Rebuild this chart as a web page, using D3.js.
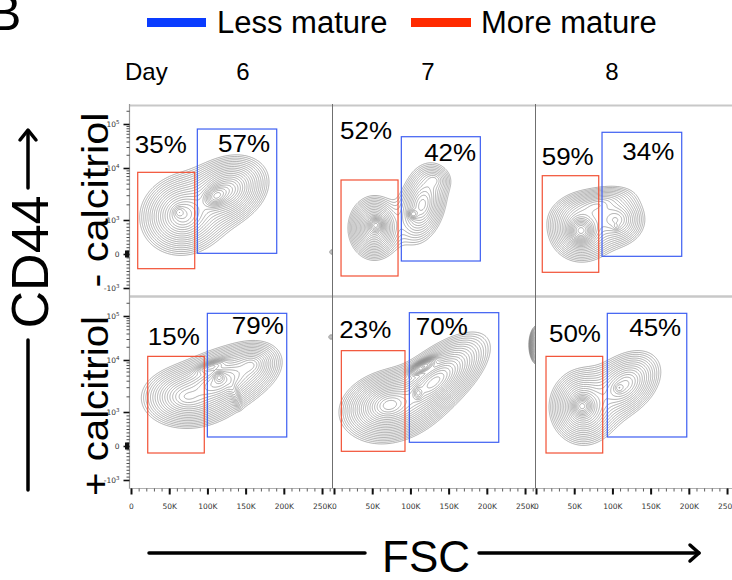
<!DOCTYPE html>
<html><head><meta charset="utf-8">
<script src="https://cdn.jsdelivr.net/npm/d3@7"></script>
<style>body{margin:0;background:#fff}svg{display:block}</style>
</head><body>
<script>
// ---------------- DATA ----------------
const days = ["6", "7", "8"];
const conditions = ["- calcitriol", "+ calcitriol"];
const legendLabels = ["Less mature", "More mature"];
const xTickValues = [0, 50000, 100000, 150000, 200000, 250000];
const xTickLabels = ["0", "50K", "100K", "150K", "200K", "250K"];
const yTickValues = [-1000, 0, 1000, 10000, 100000];
const yTickLabels = [["-10", "3"], ["0", ""], ["10", "3"], ["10", "4"], ["10", "5"]];

// populations: [FSC (K), CD44, sd FSC (K), sd CD44 (decades), angle deg, weight, core(1)/broad(0)]
const popsMinusDay6 = [[68.1,1248,14.4,0.208,-20,0.7,0],[124.4,3600,14.4,0.167,-28,0.8,0],[111.3,2894,7.9,0.094,-35,1.0,1],[62.8,1425,3.9,0.0625,0,0.35,1],[263,59,2.9,0.046,0,0.05,0]];
const popsMinusDay7 = [[52.4,765,8.5,0.167,0,0.8,0],[55,853,4.6,0.073,0,1.0,1],[115.2,1942,15.7,0.146,-75,0.4,0],[103.4,1305,3.3,0.052,0,0.3,1],[130.9,5880,7.9,0.104,0,0.12,0]];
const popsMinusDay8 = [[58.9,735,11.1,0.177,0,0.8,0],[58.9,676,7.2,0.115,0,1.2,1],[104.7,1000,11.8,0.167,0,0.4,0],[104.7,794,2.6,0.042,0,0.12,1],[78.5,1942,15.7,0.104,-15,0.25,0]];
const popsPlusDay6 = [[115.2,3775,18.3,0.156,-22,0.9,0],[72,1942,15.7,0.167,0,0.45,0],[115.2,4710,3.9,0.0625,0,0.8,1],[104.7,7330,10.5,0.052,-20,0.4,1],[134.8,2425,9.2,0.052,70,0.15,1],[157,8020,10.5,0.125,-20,0.3,0],[261.8,33300,2.9,0.046,0,0.05,0]];
const popsPlusDay7 = [[72,1365,14.4,0.156,-15,0.7,0],[130.9,3775,19.6,0.135,-40,0.7,0],[116.5,7330,9.2,0.052,-30,0.7,1],[110,2320,3.3,0.073,0,0.4,1],[266.4,21900,4.6,0.167,0,0.35,1]];
const popsPlusDay8 = [[61.5,1248,11.1,0.198,0,0.8,0],[60.2,1305,5.9,0.094,0,1.0,1],[115.2,3300,15.7,0.167,-40,0.5,0],[108.6,2894,3.3,0.052,0,0.2,1]];

// gates: [FSC low (K), FSC high (K), CD44 low, CD44 high]
const gatesMoreMature = [[8.8,83.4,-432,8260],[9.2,83.8,-647,5880],[8.2,82.1,-538,7110],[21.9,95.9,-206,12100],[9.6,92.9,-156,16300],[13.1,87.3,-206,12100]];
const gatesLessMature = [[86.8,190.7,20,76900],[88.1,191.5,-206,51400],[86.4,190.7,-68,64800],[99.9,203.8,265,115000],[98.6,215.6,109,119000],[93.3,197.3,265,115000]];
const pctMoreMature = [35, 52, 59, 15, 23, 50];
const pctLessMature = [57, 42, 34, 79, 70, 45];
// label anchors (FSC K, CD44) – left edge / baseline
const moreLabelAt = [[5,21900],[7.9,45600],[7.5,11700],[22,21900],[7,31100],[17,25200]];
const lessLabelAt = [[114,23100],[118,14700],[113,15200],[132,38400],[107,37000],[122,35600]];

const panelPops = [popsMinusDay6, popsMinusDay7, popsMinusDay8, popsPlusDay6, popsPlusDay7, popsPlusDay8];

// ---------------- LAYOUT ----------------
const W = 732, H = 580;
const FONT = "'Liberation Sans', Arial, Helvetica, sans-serif";
const colEdge = [129.5, 332.5, 535.5, 732];
const fscZero = [131, 334, 536];
const rowTop = [105, 297];
const panelH = 192;
const BLUE = "#0a3cff", RED = "#ff2a00";
const GATE_BLUE = "#3d5ef2", GATE_RED = "#f25034";

const svg = d3.select("body").append("svg").attr("width", W).attr("height", H)
  .style("font-family", FONT);

function uT(v) { return v >= 1000 ? Math.log10(v) : 2 + v / 1000; }
function makeY(r) {
  const lin = d3.scaleLinear().domain([1, 2, 3, 4, 5]).range([183, 149, 115, 63, 19].map(d => d + rowTop[r]));
  const f = v => lin(uT(v)); f.lin = lin; return f;
}
function makeX(c) { return d3.scaleLinear().domain([0, 265000]).range([fscZero[c], fscZero[c] + 202.5]); }

// ---------------- PANELS ----------------
const defs = svg.append("defs");
for (let r = 0; r < 2; r++) {
  for (let c = 0; c < 3; c++) {
    const idx = r * 3 + c;
    const x = makeX(c), y = makeY(r);
    const gx0 = colEdge[c], gy0 = rowTop[r];
    const gw = Math.round(colEdge[c + 1] - colEdge[c]), gh = panelH;
    const pops = panelPops[idx].map(p => ({
      cx: x(p[0] * 1000) - gx0, cy: y(p[1]) - gy0,
      sx: x(p[2] * 1000) - x(0), sy: p[3] * 48,
      ca: Math.cos(p[4] * Math.PI / 180), sa: Math.sin(p[4] * Math.PI / 180), w: p[5], core: p[6]
    }));
    const vals = new Float64Array(gw * gh);
    for (let j = 0; j < gh; j++) for (let i = 0; i < gw; i++) {
      let s = 0;
      for (const p of pops) {
        const dx = i + 0.5 - p.cx, dy = j + 0.5 - p.cy;
        const xr = dx * p.ca + dy * p.sa, yr = -dx * p.sa + dy * p.ca;
        const d2 = xr * xr / (p.sx * p.sx) + yr * yr / (p.sy * p.sy);
        s += p.w * (p.core ? Math.exp(-0.5 * d2) : Math.exp(1 - Math.sqrt(1 + d2)));
      }
      vals[j * gw + i] = s;
    }
    const mx = d3.max(vals);
    const N = 22, hi = 0.9, lo = 0.02;
    const levels = d3.range(N).map(k => mx * hi * Math.pow(lo / hi, k / (N - 1)));
    const cont = d3.contours().size([gw, gh]).thresholds(levels)(vals);
    const cid = "clip" + idx;
    defs.append("clipPath").attr("id", cid).append("rect")
      .attr("x", gx0).attr("y", gy0).attr("width", gw).attr("height", gh);
    const g = svg.append("g").attr("clip-path", `url(#${cid})`);
    g.append("g").attr("transform", `translate(${gx0},${gy0})`)
      .selectAll("path").data(cont).join("path")
      .attr("d", d3.geoPath())
      .attr("fill", "none").attr("stroke", "#828282").attr("stroke-width", 0.6);

    // gates
    const gm = gatesMoreMature[idx], gl = gatesLessMature[idx];
    g.append("rect").attr("x", x(gm[0] * 1000)).attr("y", y(gm[3]))
      .attr("width", x(gm[1] * 1000) - x(gm[0] * 1000)).attr("height", y(gm[2]) - y(gm[3]))
      .attr("fill", "none").attr("stroke", GATE_RED).attr("stroke-width", 1.2);
    g.append("rect").attr("x", x(gl[0] * 1000)).attr("y", y(gl[3]))
      .attr("width", x(gl[1] * 1000) - x(gl[0] * 1000)).attr("height", y(gl[2]) - y(gl[3]))
      .attr("fill", "none").attr("stroke", GATE_BLUE).attr("stroke-width", 1.2);
    // labels
    svg.append("text").attr("x", x(moreLabelAt[idx][0] * 1000)).attr("y", y(moreLabelAt[idx][1]))
      .attr("font-size", 23).attr("textLength", 52).attr("lengthAdjust", "spacingAndGlyphs")
      .text(pctMoreMature[idx] + "%");
    svg.append("text").attr("x", x(lessLabelAt[idx][0] * 1000)).attr("y", y(lessLabelAt[idx][1]))
      .attr("font-size", 23).attr("textLength", 52).attr("lengthAdjust", "spacingAndGlyphs")
      .text(pctLessMature[idx] + "%");
  }
}

// ---------------- FRAME ----------------
const frame = svg.append("g");
frame.append("line").attr("x1", 129).attr("x2", W).attr("y1", 105.5).attr("y2", 105.5).attr("stroke", "#c8c8c8").attr("stroke-width", 2);
frame.append("line").attr("x1", 129).attr("x2", W).attr("y1", 296.5).attr("y2", 296.5).attr("stroke", "#c8c8c8").attr("stroke-width", 2.5);
[332.5, 535.5].forEach(xv => frame.append("line").attr("x1", xv).attr("x2", xv).attr("y1", 104).attr("y2", 489).attr("stroke", "#6f6f6f").attr("stroke-width", 1));
frame.append("line").attr("x1", 129.5).attr("x2", 129.5).attr("y1", 104).attr("y2", 489).attr("stroke", "#9a9a9a").attr("stroke-width", 1.2);
frame.append("line").attr("x1", 129).attr("x2", W).attr("y1", 488.5).attr("y2", 488.5).attr("stroke", "#b0b0b0").attr("stroke-width", 1.2);

// ---------------- AXES ----------------
const axisFont = "'DejaVu Sans', Verdana, sans-serif";
for (let r = 0; r < 2; r++) {
  const y = makeY(r);
  const minor = [];
  [-900,-800,-700,-600,-500,-400,-300,-200,-100,100,200,300,400,500,600,700,800,900].forEach(v => minor.push(v));
  [2,3,4,5,6,7,8,9].forEach(m => { minor.push(m * 1000); minor.push(m * 10000); });
  minor.push(200000);
  const gMin = svg.append("g").attr("transform", "translate(129.5,0)")
    .call(d3.axisLeft(y.lin).tickValues(minor.map(uT)).tickSize(3).tickFormat(""));
  gMin.select(".domain").remove();
  gMin.selectAll("line").attr("stroke", "#222").attr("stroke-width", 0.8);
  const gMaj = svg.append("g").attr("transform", "translate(129.5,0)")
    .call(d3.axisLeft(y.lin).tickValues(yTickValues.map(uT)).tickSize(6).tickPadding(4).tickFormat(""));
  gMaj.select(".domain").remove();
  gMaj.selectAll("line").attr("stroke", "#111").attr("stroke-width", 1.6);
  gMaj.selectAll(".tick").each(function (d, i) {
    const t = d3.select(this).append("text").attr("x", -10).attr("dy", "0.32em")
      .attr("text-anchor", "end").attr("fill", "#333").attr("font-size", 7.5).attr("font-family", axisFont);
    t.append("tspan").text(yTickLabels[i][0]);
    if (yTickLabels[i][1]) t.append("tspan").attr("dy", "-0.45em").attr("font-size", 5.5).text(yTickLabels[i][1]);
  });
  svg.append("rect").attr("x", 125).attr("y", y(0) - 3.5).attr("width", 4).attr("height", 7).attr("fill", "#111");
}
for (let c = 0; c < 3; c++) {
  const x = makeX(c);
  const gMin = svg.append("g").attr("transform", "translate(0,488.5)")
    .call(d3.axisBottom(x).tickValues(d3.range(0, 260001, 10000)).tickSize(3).tickFormat(""));
  gMin.select(".domain").remove();
  gMin.selectAll("line").attr("stroke", "#333").attr("stroke-width", 0.8);
  const gMaj = svg.append("g").attr("transform", "translate(0,488.5)")
    .call(d3.axisBottom(x).tickValues(xTickValues).tickSize(6).tickPadding(9).tickFormat((d, i) => xTickLabels[i]));
  gMaj.select(".domain").remove();
  gMaj.selectAll("line").attr("stroke", "#111").attr("stroke-width", 2);
  gMaj.selectAll("text").attr("fill", "#333").attr("font-size", 7.5).attr("font-family", axisFont);
}

// ---------------- TITLES ----------------
svg.append("text").attr("x", -12).attr("y", 30).attr("font-size", 50).text("B");
// legend
svg.append("rect").attr("x", 147).attr("y", 18).attr("width", 59).attr("height", 9).attr("fill", BLUE);
svg.append("text").attr("x", 217).attr("y", 33).attr("font-size", 31).text(legendLabels[0]);
svg.append("rect").attr("x", 411).attr("y", 18).attr("width", 60).attr("height", 9).attr("fill", RED);
svg.append("text").attr("x", 481).attr("y", 33).attr("font-size", 31).text(legendLabels[1]);
// day header
svg.append("text").attr("x", 125).attr("y", 80).attr("font-size", 24).text("Day");
const dayCenters = [243, 428, 612];
days.forEach((d, i) => svg.append("text").attr("x", dayCenters[i]).attr("y", 80).attr("font-size", 24).attr("text-anchor", "middle").text(d));
// row labels
const rowLabelY = [200, 406], rowLabelLen = [175, 180];
conditions.forEach((t, i) => svg.append("text")
  .attr("transform", `translate(108,${rowLabelY[i]}) rotate(-90)`)
  .attr("text-anchor", "middle").attr("font-size", 36)
  .attr("textLength", rowLabelLen[i]).attr("lengthAdjust", "spacingAndGlyphs").text(t));
// CD44 axis title
svg.append("text").attr("transform", "translate(48,262) rotate(-90)").attr("text-anchor", "middle")
  .attr("font-size", 52).text("CD44");
const arrowStyle = s => s.attr("fill", "none").attr("stroke", "#000").attr("stroke-width", 3.5).attr("stroke-linecap", "round").attr("stroke-linejoin", "round");
svg.append("line").attr("x1", 28).attr("x2", 28).attr("y1", 340).attr("y2", 490).call(arrowStyle);
svg.append("line").attr("x1", 28).attr("x2", 28).attr("y1", 188).attr("y2", 131).call(arrowStyle);
svg.append("polyline").attr("points", "20,140 28,130 36,140").call(arrowStyle);
// FSC axis title
svg.append("text").attr("x", 426).attr("y", 572).attr("text-anchor", "middle").attr("font-size", 44).text("FSC");
svg.append("line").attr("x1", 149).attr("x2", 365).attr("y1", 553).attr("y2", 553).call(arrowStyle);
svg.append("line").attr("x1", 479).attr("x2", 699).attr("y1", 553).attr("y2", 553).call(arrowStyle);
svg.append("polyline").attr("points", "690,545 699,553 690,561").call(arrowStyle);
</script>
</body></html>
